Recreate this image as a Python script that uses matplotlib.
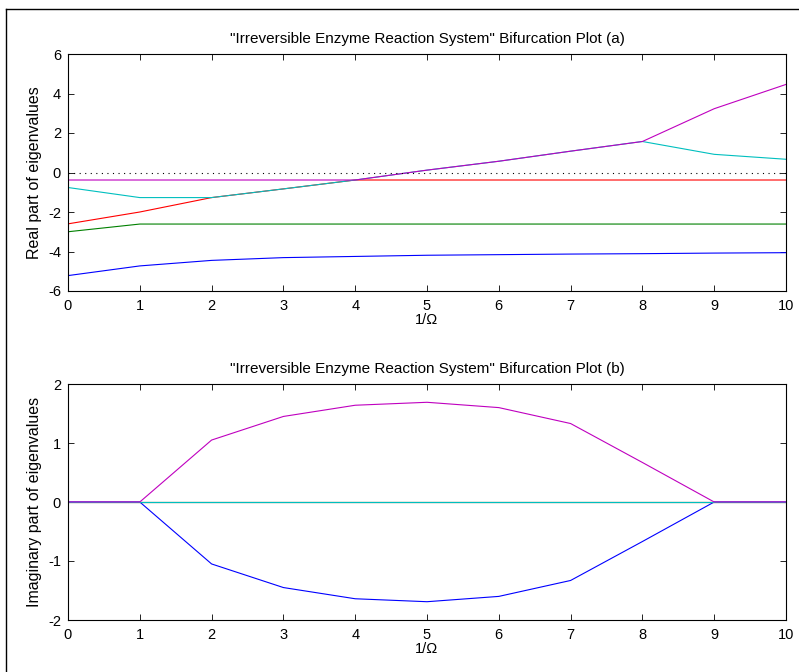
import matplotlib
matplotlib.use("Agg")
import matplotlib.pyplot as plt
from matplotlib.lines import Line2D

plt.rcParams["font.family"] = ["Liberation Sans", "DejaVu Sans"]
plt.rcParams["font.size"] = 10
plt.rcParams["axes.unicode_minus"] = False

# 1/Omega values
x = [0, 1, 2, 3, 4, 5, 6, 7, 8, 9, 10]

# real parts of the eigenvalues
re_blue = [-5.22, -4.73, -4.45, -4.31, -4.25, -4.19, -4.16, -4.13, -4.11, -4.08, -4.06]
re_green = [-3.0, -2.61, -2.61, -2.61, -2.61, -2.61, -2.61, -2.61, -2.61, -2.61, -2.61]
re_red = [-2.6, -2.0, -1.27, -0.83, -0.38, -0.38, -0.38, -0.38, -0.38, -0.38, -0.38]
re_cyan = [-0.76, -1.27, -1.27, -0.83, -0.38, 0.12, 0.57, 1.08, 1.57, 0.92, 0.67]
re_magenta = [-0.38, -0.38, -0.38, -0.38, -0.38, 0.12, 0.57, 1.08, 1.57, 3.23, 4.46]

# imaginary parts of the eigenvalues
im_blue = [0, 0, -1.05, -1.45, -1.64, -1.69, -1.60, -1.33, -0.67, 0, 0]
im_green = [0, 0, 0, 0, 0, 0, 0, 0, 0, 0, 0]
im_red = [0, 0, 0, 0, 0, 0, 0, 0, 0, 0, 0]
im_cyan = [0, 0, 0, 0, 0, 0, 0, 0, 0, 0, 0]
im_magenta = [0, 0, 1.05, 1.45, 1.64, 1.69, 1.60, 1.33, 0.67, 0, 0]

colors = ["#0000ff", "#008000", "#ff0000", "#00bfbf", "#bf00bf"]

fig = plt.figure(figsize=(7.99, 6.72), dpi=100)
ax1 = fig.add_axes([68 / 799, 1 - 291 / 672, 718 / 799, 237 / 672])
ax2 = fig.add_axes([68 / 799, 1 - 620 / 672, 718 / 799, 236 / 672])

for ys, c in zip([re_blue, re_green, re_red, re_cyan, re_magenta], colors):
    ax1.plot(x, ys, color=c, linewidth=0.8)
ax1.axhline(0, color="black", linestyle=(0, (1, 4)), linewidth=0.8)

for ys, c in zip([im_blue, im_green, im_red, im_cyan, im_magenta], colors):
    ax2.plot(x, ys, color=c, linewidth=0.8)

ax1.set_ylim(-6, 6)
ax1.set_yticks(range(-6, 7, 2))
ax2.set_ylim(-2, 2)
ax2.set_yticks(range(-2, 3))

for ax in (ax1, ax2):
    ax.set_xlim(0, 10)
    ax.set_xticks(range(0, 11))
    ax.tick_params(direction="in", top=True, right=True, length=4, width=0.6,
                   pad=5, labelsize=10.5)
    ax.tick_params(axis="x", pad=6)
    for sp in ax.spines.values():
        sp.set_linewidth(0.8)
    ax.set_xlabel("1/\u03a9", labelpad=0, fontsize=10.5)

ax1.set_title("\"Irreversible Enzyme Reaction System\" Bifurcation Plot (a)", pad=8, fontsize=11)
ax2.set_title("\"Irreversible Enzyme Reaction System\" Bifurcation Plot (b)", pad=8, fontsize=11)
ax1.set_ylabel("Real part of eigenvalues", labelpad=4, fontsize=11.5)
ax2.set_ylabel("Imaginary part of eigenvalues", labelpad=4, fontsize=11.5)

# outer window frame (top and left edges)
fig.add_artist(Line2D([6 / 799, 1], [1 - 9 / 672, 1 - 9 / 672], color="black", linewidth=1))
fig.add_artist(Line2D([6 / 799, 6 / 799], [0, 1 - 9 / 672], color="black", linewidth=1))

fig.savefig("out.png", dpi=100)
